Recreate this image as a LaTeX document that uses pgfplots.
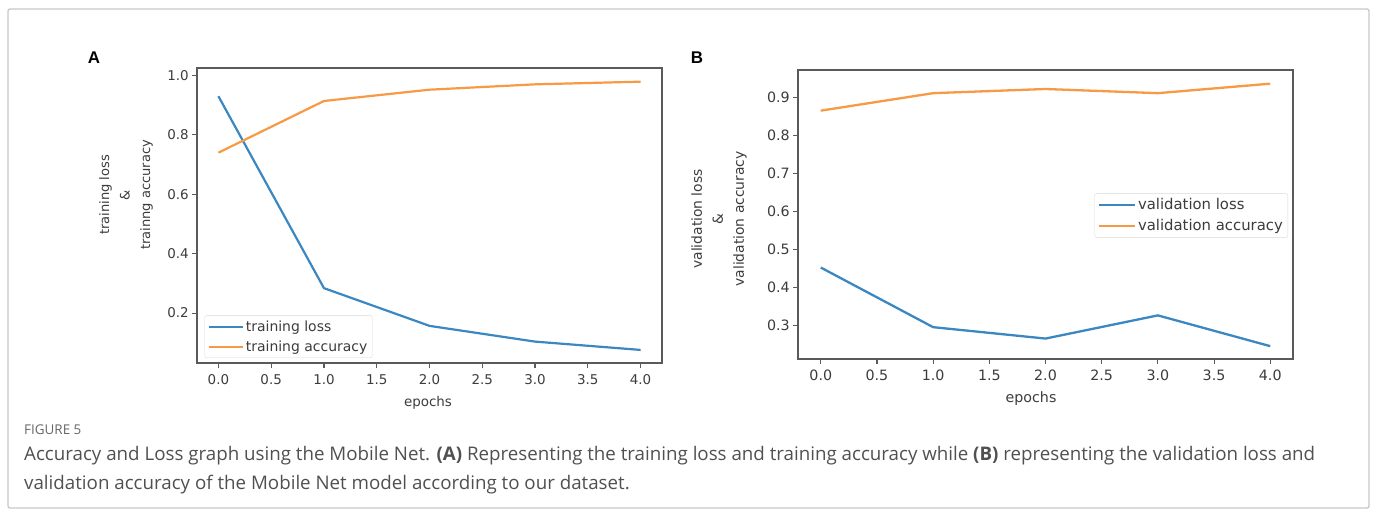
\documentclass[border=0pt]{standalone}
\usepackage{pgfplots}
\pgfplotsset{compat=1.18}
\usepackage{fontspec}
\setmainfont{DejaVu Sans}
\newfontfamily\capfont{Open Sans}
\newfontfamily\panelfont{Liberation Sans}
\definecolor{cblue}{HTML}{3A87C2}
\definecolor{corange}{HTML}{F79A45}
\definecolor{axgray}{HTML}{5A5A5A}
\definecolor{txt}{HTML}{3C3C3C}
\definecolor{captxt}{HTML}{505050}
\pgfplotsset{
  mpl/.style={
    scale only axis,
    clip=false,
    axis line style={axgray, line width=1.7bp},
    tick style={axgray, line width=1.1bp},
    tick align=outside,
    major tick length=5bp,
    tick pos=left,
    /pgf/number format/assume math mode=true,
    /pgf/number format/fixed,
    /pgf/number format/fixed zerofill,
    /pgf/number format/precision=1,
    xticklabel style={yshift=-2.5bp},
    xmin=-0.2, xmax=4.2,
    xtick={0,0.5,1,1.5,2,2.5,3,3.5,4},
    legend cell align=left,
    legend style={text=txt, draw=black!15, rounded corners=2bp,
      fill=white, inner xsep=3bp, inner ysep=3bp},
    every axis plot/.append style={line width=2.2bp},
  }
}
\begin{document}
\begin{tikzpicture}
\path[use as bounding box] (0bp,0bp) rectangle (1377bp,517bp);
\draw[color=black!22, line width=1.3bp, rounded corners=2bp] (8bp,9bp) rectangle (1369bp,508bp);

% Panel A
\begin{axis}[mpl, at={(197.3bp,153.7bp)}, anchor=south west,
  width=464.4bp, height=295bp,
  ymin=0.031, ymax=1.024, ytick={0.2,0.4,0.6,0.8,1.0},
  ticklabel style={font=\fontsize{13.5}{16}\selectfont, text=txt},
  legend style={at={(0.0155,0.018)}, anchor=south west, font=\fontsize{14}{16}\selectfont, row sep=4bp},
  legend image code/.code={\draw[#1, line width=2.2bp] (0bp,0bp) -- (29bp,0bp); \path (0bp,0bp) -- (34bp,0bp);}]
\addplot[cblue] coordinates {(0,0.930) (1,0.284) (2,0.157) (3,0.104) (4,0.076)};
\addlegendentry{training loss}
\addplot[corange] coordinates {(0,0.740) (1,0.914) (2,0.952) (3,0.970) (4,0.979)};
\addlegendentry{training accuracy}
\end{axis}
\draw[axgray, line width=1.7bp] (197.3bp,153.7bp) rectangle (661.7bp,448.7bp);

% Panel B
\begin{axis}[mpl, at={(798.3bp,158.3bp)}, anchor=south west,
  width=494.4bp, height=288.7bp,
  ymin=0.212, ymax=0.972, ytick={0.3,0.4,0.5,0.6,0.7,0.8,0.9},
  ticklabel style={font=\fontsize{14.3}{17}\selectfont, text=txt},
  every axis plot/.append style={line width=2.3bp},
  legend style={at={(0.9905,0.496)}, anchor=east, font=\fontsize{14.9}{17}\selectfont, row sep=4.3bp},
  legend image code/.code={\draw[#1, line width=2.3bp] (0bp,0bp) -- (31bp,0bp); \path (0bp,0bp) -- (36bp,0bp);}]
\addplot[cblue] coordinates {(0,0.452) (1,0.295) (2,0.265) (3,0.326) (4,0.245)};
\addlegendentry{validation loss}
\addplot[corange] coordinates {(0,0.865) (1,0.911) (2,0.922) (3,0.911) (4,0.936)};
\addlegendentry{validation accuracy}
\end{axis}
\draw[axgray, line width=1.7bp] (798.3bp,158.3bp) rectangle (1292.7bp,447bp);

% axis labels
\node[text=txt, font=\fontsize{13.1}{20.5}\selectfont, rotate=90, align=center] at (126bp,322bp)
  {training loss\\\&\\trainng accuracy};
\node[text=txt, font=\fontsize{13.9}{21}\selectfont, rotate=90, align=center] at (719bp,298bp)
  {validation loss\\\&\\validation accuracy};
\node[text=txt, font=\fontsize{13.5}{16}\selectfont] at (428bp,114bp) {epochs};
\node[text=txt, font=\fontsize{14.3}{17}\selectfont] at (1031bp,118bp) {epochs};

% panel letters
\node[font=\panelfont\bfseries\fontsize{17}{20}\selectfont, text=black] at (94bp,459bp) {A};
\node[font=\panelfont\bfseries\fontsize{17}{20}\selectfont, text=black] at (697bp,459bp) {B};

% caption
\node[anchor=base west, inner sep=0pt, font=\capfont\fontsize{13.5}{16}\selectfont, text=black!60] at (24bp,82bp) {FIGURE 5};
\node[anchor=base west, inner sep=0pt, font=\capfont\fontsize{18.8}{22}\selectfont, text=captxt] at (24bp,56bp)
  {Accuracy and Loss graph using the Mobile Net. \textbf{(A)} Representing the training loss and training accuracy while \textbf{(B)} representing the validation loss and};
\node[anchor=base west, inner sep=0pt, font=\capfont\fontsize{18.8}{22}\selectfont, text=captxt] at (24bp,28bp)
  {validation accuracy of the Mobile Net model according to our dataset.};
\end{tikzpicture}
\end{document}
